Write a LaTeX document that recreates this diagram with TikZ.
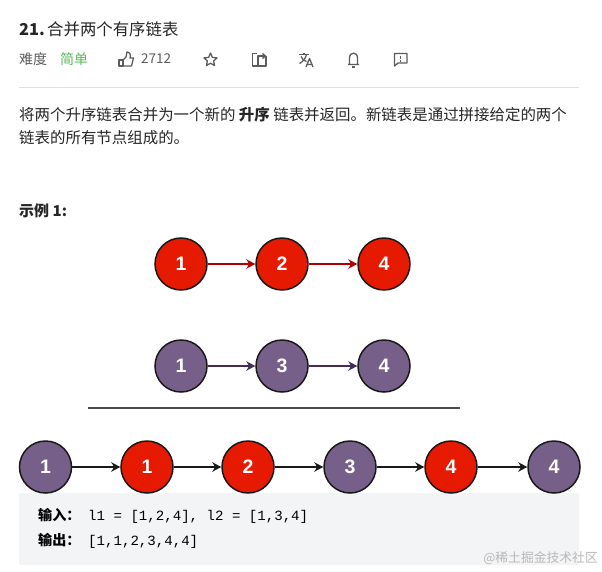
\documentclass[tikz,border=0pt]{standalone}
\usepackage{fontspec}
\setmainfont{Noto Sans CJK SC}
\setmonofont{Liberation Mono}
\newfontfamily\ballfont{Liberation Sans}
\usetikzlibrary{arrows.meta, positioning}

\definecolor{ballred}{HTML}{E51A00}
\definecolor{ballpurple}{HTML}{76608A}
\definecolor{arrowred}{HTML}{B20000}
\definecolor{arrowpurple}{HTML}{432D57}
\definecolor{bodygray}{HTML}{262626}
\definecolor{metagray}{HTML}{5C5C5C}
\definecolor{easygreen}{HTML}{5CB85C}
\definecolor{codebg}{HTML}{F3F4F6}

\tikzset{
    ball/.style={circle, draw=black!90, line width=1.5pt, minimum size=52pt, inner sep=0pt,
        text=white, font=\ballfont\bfseries\fontsize{19.5}{19.5}\selectfont},
    redball/.style={ball, fill=ballred},
    purpleball/.style={ball, fill=ballpurple},
    link/.style={-{Stealth[length=9pt, width=9.5pt]}, line width=1.5pt},
    textline/.style={anchor=west, inner sep=0pt, text=bodygray, font=\fontsize{15.45}{15.45}\selectfont},
    metaline/.style={anchor=west, inner sep=0pt, text=metagray, font=\fontsize{14}{14}\selectfont},
    codeline/.style={anchor=west, inner sep=0pt, font=\fontsize{14.1}{14.1}\selectfont},
    iconline/.style={draw=metagray, line width=1.3pt, line join=round}
}

\begin{document}
\begin{tikzpicture}[x=1pt, y=-1pt]
    \useasboundingbox (0,0) rectangle (602,571);
    \fill[white] (0,0) rectangle (602,571);

    % Title and meta row
    \node[textline, font=\fontsize{16.4}{16.4}\selectfont] (title) at (19,29) {\makebox[28pt][l]{\textbf{21.}}合并两个有序链表};
    \node[metaline] (level) at (19,59) {难度};
    \node[metaline, text=easygreen] (easy) at (60,59) {简单};
    \node[metaline, font=\fontsize{13.5}{13.5}\selectfont] (likes) at (141,59) {2712};

    % Thumb
    \draw[iconline] (119,60) rectangle (123,66);
    \draw[iconline] (123,60) -- (126,57) -- (127,52) .. controls (130,52) and (131,55) .. (130,58)
        -- (133.5,58) -- (131.5,66) -- (123,66);
    % Star
    \draw[iconline] (210.5,53) -- (212.4,57.4) -- (217,57.9) -- (213.6,61) -- (214.6,65.6) -- (210.5,63.2)
        -- (206.4,65.6) -- (207.4,61) -- (204,57.9) -- (208.6,57.4) -- cycle;
    % Share
    \draw[iconline] (257,53.5) -- (252.5,53.5) -- (252.5,66) -- (266,66) -- (266,56);
    \draw[iconline] (258,65) -- (258,56) -- (265,56);
    \draw[iconline] (262.5,53.5) -- (265.5,56) -- (262.5,58.5);
    % Translate
    \draw[iconline] (299,54.5) -- (309,54.5) (304,52.5) -- (304,54.5);
    \draw[iconline] (306.5,54.5) .. controls (305.5,58.5) and (303,61.5) .. (299.5,63.5);
    \draw[iconline] (301,56.5) .. controls (302,59) and (304,61) .. (306.5,61.5);
    \draw[iconline] (306,67) -- (309.5,58.5) -- (313,67) (307.2,64.5) -- (311.8,64.5);
    % Bell
    \draw[iconline] (348,64.5) -- (359,64.5) (349.5,64.5) -- (349.5,58) .. controls (349.5,51.5) and (357.5,51.5) .. (357.5,58) -- (357.5,64.5);
    \draw[iconline] (352,67) -- (355,67);
    % Report
    \draw[iconline] (394.5,53.5) -- (407,53.5) -- (407,63) -- (398,63) -- (394.5,66) -- cycle;
    \draw[iconline] (400.7,55.5) -- (400.7,58.5) (400.7,60) -- (400.7,61.5);

    \draw[black!12, line width=0.8pt] (19,87) -- (579,87);

    % Problem statement
    \node[textline] (line1) at (19,115) {将两个升序链表合并为一个新的 \textbf{升序} 链表并返回。新链表是通过拼接给定的两个};
    \node[textline] (line2) at (19,138) {链表的所有节点组成的。};
    \node[textline, font=\fontsize{15}{15}\selectfont\bfseries] (example) at (19,211) {示例 1:};

    % First list
    \node[redball] (a1) at (181,264) {1};
    \node[redball] (a2) at (282,264) {2};
    \node[redball] (a4) at (384,264) {4};
    \draw[link, arrowred] (a1) -- (a2);
    \draw[link, arrowred] (a2) -- (a4);

    % Second list
    \node[purpleball] (b1) at (181,366) {1};
    \node[purpleball] (b3) at (282,366) {3};
    \node[purpleball] (b4) at (384,366) {4};
    \draw[link, arrowpurple] (b1) -- (b3);
    \draw[link, arrowpurple] (b3) -- (b4);

    \draw[black!70, line width=2.4pt] (88,408) -- (460,408);

    % Code block sits under the merged list
    \fill[codebg, rounded corners=2pt] (19,493) rectangle (579,565);
    \node[codeline] (input) at (38,516)
        {\makebox[50pt][l]{\textbf{输入：}}\texttt{l1 = [1,2,4], l2 = [1,3,4]}};
    \node[codeline] (output) at (38,541)
        {\makebox[50pt][l]{\textbf{输出：}}\texttt{[1,1,2,3,4,4]}};

    % Merged list
    \node[purpleball] (c1) at (45.5,467) {1};
    \node[redball] (c2) at (147,467) {1};
    \node[redball] (c3) at (248,467) {2};
    \node[purpleball] (c4) at (350,467) {3};
    \node[redball] (c5) at (451,467) {4};
    \node[purpleball] (c6) at (554,467) {4};
    \foreach \from/\to in {c1/c2, c2/c3, c3/c4, c4/c5, c5/c6}
        \draw[link, black!90] (\from) -- (\to);

    \node[anchor=east, inner sep=0pt, text=black!28, font=\fontsize{12.8}{12.8}\selectfont] (mark) at (598,558) {@稀土掘金技术社区};
\end{tikzpicture}
\end{document}
